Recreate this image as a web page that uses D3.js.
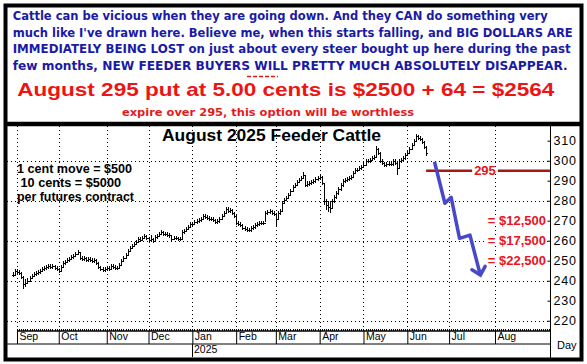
<!DOCTYPE html>
<html>
<head>
<meta charset="utf-8">
<script src="https://cdn.jsdelivr.net/npm/d3@7"></script>
<style>
  body { margin: 0; background: #fff; }
  svg { display: block; }
</style>
</head>
<body>
<div id="chart"></div>
<script>
/* DATA */
const headline = [
  "Cattle can be vicious when they are going down. And they CAN do something very",
  "much like I've drawn here. Believe me, when this starts falling, and BIG DOLLARS ARE",
  "IMMEDIATELY BEING LOST on just about every steer bought up here during the past",
  "few months, NEW FEEDER BUYERS WILL PRETTY MUCH ABSOLUTELY DISAPPEAR."
];
const putLine = "August 295 put at 5.00 cents is $2500 + 64 = $2564";
const expireLine = "expire over 295, this option will be worthless";
const chartTitle = "August 2025 Feeder Cattle";
const contractNotes = ["1 cent move = $500", " 10 cents = $5000", "per futures contract"];

// trading calendar (weekdays minus exchange holidays)
const firstDay = "2024-08-29";
const lastDay = "2025-09-12";
const holidays = ["2024-09-02", "2024-11-28", "2024-12-25", "2025-01-01", "2025-01-20",
  "2025-02-17", "2025-04-18", "2025-05-26", "2025-06-19", "2025-07-04", "2025-09-01"];

const months = ["2024-09", "2024-10", "2024-11", "2024-12", "2025-01", "2025-02",
  "2025-03", "2025-04", "2025-05", "2025-06", "2025-07", "2025-08"];
const monthLabels = ["Sep", "Oct", "Nov", "Dec", "Jan", "Feb", "Mar", "Apr", "May", "Jun", "Jul", "Aug"];
const yearLabel = "2025";

// daily bars, one value per trading day from Aug 29 2024
const closes = [
  243, 245, 244.5, 244, 242, 238.5, 239, 240, 241.5, 242.5,
  243.5, 244, 244.5, 245, 246, 246.5, 247, 247.5, 247, 247.5,
  246.5, 246, 245, 247, 249, 249.5, 250.5, 251, 252, 252.5,
  253.5, 254.5, 251.5, 251, 251.5, 250.5, 251, 250.5, 250, 250.5,
  249, 247, 246, 245.5, 246, 246.5, 246, 247.5, 247, 246.5,
  246.5, 248, 250, 251.5, 253, 255, 256.5, 257.5, 258.5, 259.5,
  261, 260.5, 261.5, 262.5, 261.5, 260.5, 261, 260, 262, 262.5,
  263.5, 264.5, 263.5, 263.5, 263, 263, 261, 261.5, 261.5, 261,
  261, 264.5, 265, 266, 267, 268.5, 268.5, 269.5, 270, 270.5,
  271, 272.5, 272, 271.5, 271, 271, 270.5, 269.5, 270, 271,
  272.5, 274, 276, 275, 275.5, 274, 272.5, 269, 268.5, 268,
  266.5, 266, 265.5, 265.5, 266.5, 267, 268, 268.5, 269, 269,
  269, 274, 274.5, 275, 274, 273.5, 271, 274, 275, 279,
  280.5, 281.5, 283, 285, 287, 288, 289.5, 290.5, 291.5, 293,
  288, 288.5, 289, 289.5, 290, 291, 291.5, 292, 289, 280,
  278, 277, 276.5, 280, 282, 284, 286, 288, 290, 290.5,
  291, 291.5, 292, 294, 295.5, 295.5, 296.5, 297, 298, 300,
  300, 300.5, 301.5, 302, 306, 304, 300, 299, 298, 298.5,
  298.5, 298.5, 300, 299, 296.5, 300, 300.5, 301.5, 303, 304,
  306, 308, 310, 312.5, 311.5, 311, 309.5, 307, 304
];
const highs = [
  244.5, 246, 246, 245.5, 244.5, 242.5, 241, 241.5, 242.5, 243.5,
  244.5, 245, 245.5, 246, 247, 247.5, 248, 248.5, 248.5, 248.5,
  248, 247.5, 246.5, 248, 250, 250.5, 251.5, 252, 253, 253.5,
  254.5, 255.5, 254.5, 252.5, 252.5, 252, 252, 252, 251.5, 251.5,
  251, 249.5, 247.5, 247, 247, 247.5, 247.5, 248.5, 248.5, 248,
  247.5, 249, 251, 252.5, 254, 256, 257.5, 258.5, 259.5, 260.5,
  262, 262, 262.5, 263.5, 263, 262, 263, 261.5, 263, 263.5,
  264.5, 265.5, 265, 264.5, 264.5, 264, 263, 262.5, 262.5, 262,
  262, 265.5, 266, 267, 268, 269.5, 269.5, 270.5, 271, 271.5,
  272, 273.5, 273.5, 273, 272.5, 272, 272, 271, 271, 272,
  273.5, 275, 277, 277, 276.5, 276, 274.5, 273, 270, 269.5,
  268.5, 267.5, 267, 266.5, 267.5, 268, 269, 269.5, 270, 270,
  270, 275, 275.5, 276, 275.5, 275, 274, 275, 276, 280,
  281.5, 282.5, 284, 286, 288, 289, 290.5, 291.5, 292.5, 294.5,
  293, 290, 290, 290.5, 291, 292, 292.5, 293, 292.5, 289,
  281, 280, 280, 281, 283, 285, 287, 289, 291, 291.5,
  292, 292.5, 293, 295, 296.5, 296.5, 297.5, 298, 299, 301,
  301, 301.5, 302.5, 303, 307.5, 306.5, 304.5, 301, 299.5, 299.5,
  300, 299.5, 301, 301, 300, 301, 301.5, 302.5, 304, 305,
  307, 309, 311, 313.5, 313, 312.5, 311.5, 310, 307.5
];
const lows = [
  242, 242.5, 243.5, 243, 241, 235.8, 237, 238.5, 239.5, 241,
  242, 242.5, 243, 243.5, 244.5, 245, 245.5, 246, 246, 246,
  245.5, 245, 244, 244.5, 246.5, 248, 249, 249.5, 250.5, 251,
  252, 253, 250.5, 250, 250, 249.5, 249.5, 249.5, 249, 249,
  248, 246, 245, 244.5, 244.5, 245, 245, 245.5, 246, 245.5,
  245.5, 246, 247.5, 249.5, 251, 252.5, 254.5, 256, 257, 258,
  259, 259.5, 260, 261, 260.5, 259.5, 259.2, 259, 259.5, 261,
  262, 263, 262.5, 262.5, 262, 261.5, 260, 260.5, 260.5, 260,
  260, 261, 263.5, 264.5, 265.5, 266.5, 267.5, 268, 268.5, 269,
  269.5, 270.5, 271, 270.5, 270, 270, 269.5, 268.5, 268.5, 269,
  270.5, 272, 273.5, 274, 274, 273, 271.5, 268, 267.5, 267,
  265.5, 265, 264.5, 264.5, 264.5, 265.5, 266, 267, 267.5, 268,
  268, 269.5, 273, 273.5, 273, 272.5, 267, 270.5, 273, 274.5,
  278.5, 280, 281, 282.5, 284.5, 286.5, 287.5, 289, 290, 291,
  287, 287, 287.5, 288, 288.5, 289, 290, 290.5, 288, 278,
  275.3, 274.5, 273.7, 276, 279, 281, 283, 285, 287, 289,
  289.5, 290, 290.5, 291.5, 293.5, 294.5, 295, 295.5, 296.5, 297.5,
  299, 299, 300, 300.5, 301.5, 303, 299, 298, 297, 297,
  297.5, 297.5, 297.5, 298, 293, 296, 299, 300, 300.5, 302.5,
  303.5, 305.5, 307.5, 309.5, 310.5, 310, 308.5, 306, 302.5
];

// hand-drawn projection
const projDates = ["2025-06-20", "2025-06-27", "2025-07-02", "2025-07-09", "2025-07-16", "2025-07-23"];
const projValues = [299.5, 278.7, 281.7, 261.2, 262.8, 242.8];

const strikeValue = 295;
const strikeStart = "2025-06-13";
const lossLevels = [270, 260, 250];
const lossLabels = ["= $12,500", "= $17,500", "= $22,500"];

const yTicks = [220, 230, 240, 250, 260, 270, 280, 290, 300, 310];
const yGrid = [220, 240, 260, 280, 300];

/* CALENDAR */
const parseDay = d3.utcParse("%Y-%m-%d");
const fmtDay = d3.utcFormat("%Y-%m-%d");
const tradingDays = d3.utcDays(parseDay(firstDay), d3.utcDay.offset(parseDay(lastDay), 1))
  .filter(d => d.getUTCDay() % 6 !== 0 && !holidays.includes(fmtDay(d)));
const dayIndex = new Map(tradingDays.map((d, i) => [fmtDay(d), i]));
const monthIdx = months.map(m => tradingDays.findIndex(d => fmtDay(d).startsWith(m)));

/* LAYOUT */
const width = 587, height = 364;
const plot = { left: 7, right: 550, top: 126, bottom: 331 };

const svg = d3.select("#chart")
  .append("svg")
  .attr("width", width)
  .attr("height", height)
  .style("background-color", "#ffffff");

/* SCALES */
const xScale = d3.scaleLinear()
  .domain([dayIndex.get("2024-09-03"), dayIndex.get("2025-08-01")])
  .range([17, 495]);

const yScale = d3.scaleLinear()
  .domain([220, 310])
  .range([320.7, 140.7]);

const px = v => Math.round(v) + 0.5;

/* GRID */
const grid = svg.append("g")
  .attr("stroke", "#000")
  .attr("stroke-width", 1)
  .attr("stroke-dasharray", "1,3")
  .attr("shape-rendering", "crispEdges");

grid.selectAll(".hgrid")
  .data(yGrid)
  .join("line")
  .attr("class", "hgrid")
  .attr("x1", plot.left)
  .attr("x2", plot.right)
  .attr("y1", d => px(yScale(d)))
  .attr("y2", d => px(yScale(d)));

grid.selectAll(".vgrid")
  .data(monthIdx)
  .join("line")
  .attr("class", "vgrid")
  .attr("x1", d => px(xScale(d)))
  .attr("x2", d => px(xScale(d)))
  .attr("y1", plot.top)
  .attr("y2", plot.bottom);

/* PRICE BARS */
const barData = closes.map((c, i) => ({
  i, c, h: highs[i], l: lows[i], o: i ? closes[i - 1] : c
}));

svg.append("g")
  .attr("fill", "none")
  .attr("stroke", "#000")
  .attr("stroke-width", 1)
  .attr("shape-rendering", "crispEdges")
  .selectAll("path")
  .data(barData)
  .join("path")
  .attr("d", d => {
    const x = px(xScale(d.i));
    const yo = px(yScale(d.o)), yc = px(yScale(d.c));
    return `M${x},${yScale(d.h)}V${yScale(d.l)}M${x - 1.5},${yo}H${x}M${x},${yc}H${x + 1.5}`;
  });

/* STRIKE LINE */
const strikeY = yScale(strikeValue);
svg.append("line")
  .attr("x1", xScale(dayIndex.get(strikeStart)))
  .attr("x2", plot.right)
  .attr("y1", strikeY)
  .attr("y2", strikeY)
  .attr("stroke", "#a81616")
  .attr("stroke-width", 2.5);

const strikeLabel = svg.append("text")
  .attr("x", 485)
  .attr("y", strikeY + 4.5)
  .attr("text-anchor", "middle")
  .style("font-family", "'Liberation Sans', Arial, sans-serif")
  .style("font-weight", "bold")
  .style("font-size", "13px")
  .attr("fill", "#e01818")
  .text(strikeValue);
const sb = strikeLabel.node().getBBox();
svg.insert("rect", () => strikeLabel.node())
  .attr("x", sb.x - 2)
  .attr("y", strikeY - 3)
  .attr("width", sb.width + 4)
  .attr("height", 6)
  .attr("fill", "#fff");

/* PROJECTION */
const projPts = projDates.map((d, k) => [xScale(dayIndex.get(d)), yScale(projValues[k])]);
svg.append("path")
  .datum(projPts)
  .attr("fill", "none")
  .attr("stroke", "#4848c8")
  .attr("stroke-width", 3.5)
  .attr("stroke-linejoin", "round")
  .attr("d", d3.line());

const [ax, ay] = projPts[projPts.length - 1];
const [bx, by] = projPts[projPts.length - 2];
const ang = Math.atan2(by - ay, bx - ax);
const wing = 10;
svg.append("path")
  .attr("fill", "none")
  .attr("stroke", "#4848c8")
  .attr("stroke-width", 3.5)
  .attr("stroke-linecap", "round")
  .attr("d", `M${ax + wing * Math.cos(ang + 0.75)},${ay + wing * Math.sin(ang + 0.75)}L${ax},${ay}L${ax + wing * Math.cos(ang - 0.75)},${ay + wing * Math.sin(ang - 0.75)}`);

/* LOSS LABELS */
svg.selectAll(".loss")
  .data(lossLevels)
  .join("text")
  .attr("class", "loss")
  .attr("x", 546)
  .attr("y", d => yScale(d) + 4.5)
  .attr("text-anchor", "end")
  .style("font-family", "'Liberation Sans', Arial, sans-serif")
  .style("font-weight", "bold")
  .style("font-size", "13px")
  .attr("fill", "#e8141e")
  .attr("stroke", "#fff")
  .attr("stroke-width", 3)
  .attr("paint-order", "stroke")
  .text((d, k) => lossLabels[k]);

/* AXES */
// bottom axis line with daily ticks
svg.append("line")
  .attr("x1", 17).attr("x2", plot.right)
  .attr("y1", plot.bottom).attr("y2", plot.bottom)
  .attr("stroke", "#000").attr("stroke-width", 1.5);

svg.append("g")
  .attr("stroke", "#000")
  .attr("shape-rendering", "crispEdges")
  .selectAll("line")
  .data(d3.range(tradingDays.length).filter(i => xScale(i) >= 17 && xScale(i) <= plot.right))
  .join("line")
  .attr("x1", d => px(xScale(d))).attr("x2", d => px(xScale(d)))
  .attr("y1", plot.bottom - 2).attr("y2", plot.bottom);

svg.append("g")
  .attr("class", "x-axis")
  .attr("transform", `translate(0,${plot.bottom})`)
  .call(d3.axisBottom(xScale).tickValues(monthIdx).tickSize(13).tickFormat((d, k) => monthLabels[k]))
  .call(g => g.select(".domain").remove())
  .call(g => g.selectAll("line").attr("stroke", "#000"))
  .call(g => g.selectAll("text")
    .attr("text-anchor", "start")
    .attr("x", 2)
    .attr("y", 2)
    .attr("fill", "#000")
    .style("font-family", "'Liberation Sans', Arial, sans-serif")
    .style("font-size", "10.5px"));

svg.append("line")
  .attr("x1", plot.left).attr("x2", plot.right)
  .attr("y1", 344).attr("y2", 344)
  .attr("stroke", "#000");

const janX = px(xScale(monthIdx[4]));
svg.append("line")
  .attr("x1", janX).attr("x2", janX)
  .attr("y1", 344).attr("y2", 357)
  .attr("stroke", "#000");
svg.append("text")
  .attr("x", janX + 1.5)
  .attr("y", 353)
  .style("font-family", "'Liberation Sans', Arial, sans-serif")
  .style("font-size", "10.5px")
  .text(yearLabel);

// right axis
svg.append("line")
  .attr("x1", px(plot.right)).attr("x2", px(plot.right))
  .attr("y1", plot.top).attr("y2", 358)
  .attr("stroke", "#000");

svg.append("g")
  .attr("class", "y-axis")
  .attr("transform", `translate(${px(plot.right)},0)`)
  .call(d3.axisRight(yScale).tickValues(yTicks).tickSize(-3).tickPadding(3))
  .call(g => g.select(".domain").remove())
  .call(g => g.selectAll("line").attr("stroke", "#000"))
  .call(g => g.selectAll("text")
    .attr("fill", "#000")
    .style("font-family", "'Liberation Sans', Arial, sans-serif")
    .style("font-size", "12.5px")
    .style("letter-spacing", "0.8px"));

svg.append("text")
  .attr("x", 557)
  .attr("y", 349)
  .style("font-family", "'Liberation Sans', Arial, sans-serif")
  .style("font-size", "11px")
  .text("Day");

/* CHART TEXT */
svg.append("text")
  .attr("x", 162)
  .attr("y", 141)
  .attr("textLength", 219)
  .attr("lengthAdjust", "spacingAndGlyphs")
  .style("font-family", "'Liberation Sans', Arial, sans-serif")
  .style("font-weight", "bold")
  .style("font-size", "16px")
  .text(chartTitle);

const noteX = [17, 17, 17], noteY = [172.5, 186.5, 201], noteLen = [115, 104, 117];
svg.selectAll(".note")
  .data(contractNotes)
  .join("text")
  .attr("class", "note")
  .attr("x", (d, k) => noteX[k])
  .attr("y", (d, k) => noteY[k])
  .attr("textLength", (d, k) => noteLen[k])
  .attr("lengthAdjust", "spacingAndGlyphs")
  .attr("xml:space", "preserve")
  .style("white-space", "pre")
  .style("font-family", "'Liberation Sans', Arial, sans-serif")
  .style("font-weight", "bold")
  .style("font-size", "12px")
  .text(d => d);

/* HEADLINE BOX */
const lineY = [19.5, 36.5, 53, 69.5], lineLen = [535, 560, 558, 555];
svg.selectAll(".headline")
  .data(headline)
  .join("text")
  .attr("class", "headline")
  .attr("x", 12.7)
  .attr("y", (d, k) => lineY[k])
  .attr("textLength", (d, k) => lineLen[k])
  .attr("lengthAdjust", "spacingAndGlyphs")
  .style("font-family", "'DejaVu Sans', Verdana, sans-serif")
  .style("font-weight", "bold")
  .style("font-size", "11.5px")
  .attr("fill", "#1a1aa6")
  .text(d => d);

svg.append("line")
  .attr("x1", 247).attr("x2", 278)
  .attr("y1", 76.5).attr("y2", 76.5)
  .attr("stroke", "#e01818")
  .attr("stroke-width", 1.5)
  .attr("stroke-dasharray", "4,2");

svg.append("text")
  .attr("x", 17.3)
  .attr("y", 96)
  .attr("textLength", 537)
  .attr("lengthAdjust", "spacingAndGlyphs")
  .style("font-family", "'Liberation Sans', Arial, sans-serif")
  .style("font-weight", "bold")
  .style("font-size", "19px")
  .attr("fill", "#ee1414")
  .text(putLine);

svg.append("text")
  .attr("x", 122)
  .attr("y", 115.5)
  .attr("textLength", 292)
  .attr("lengthAdjust", "spacingAndGlyphs")
  .style("font-family", "'DejaVu Sans', Verdana, sans-serif")
  .style("font-weight", "bold")
  .style("font-size", "11px")
  .attr("fill", "#e41b1b")
  .text(expireLine);

/* FRAMES */
svg.append("line")
  .attr("x1", 5).attr("x2", 582)
  .attr("y1", 124).attr("y2", 124)
  .attr("stroke", "#000")
  .attr("stroke-width", 4.5);

svg.append("rect")
  .attr("x", 5.5)
  .attr("y", 5.5)
  .attr("width", 576)
  .attr("height", 354)
  .attr("fill", "none")
  .attr("stroke", "#000")
  .attr("stroke-width", 4);
</script>
</body>
</html>
